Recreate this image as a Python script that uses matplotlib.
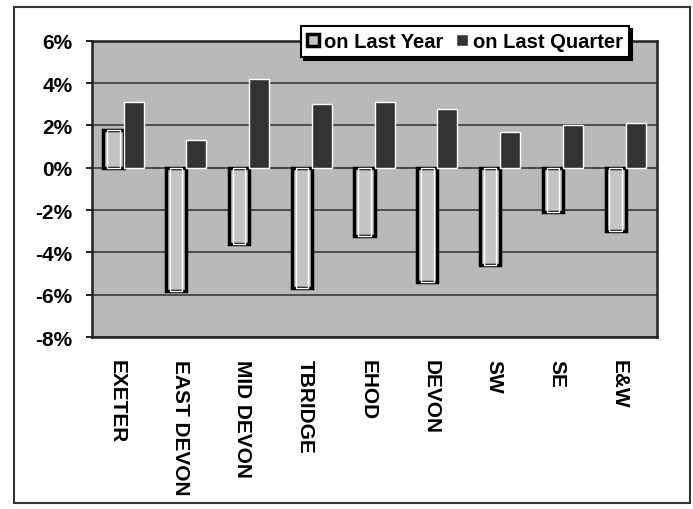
import numpy as np
import matplotlib
matplotlib.use("Agg")
import matplotlib.pyplot as plt
from matplotlib.patches import Rectangle
from matplotlib.ticker import FuncFormatter

plt.rcParams['font.family'] = ['Liberation Sans', 'DejaVu Sans']
plt.rcParams['font.weight'] = 'bold'

areas = ["EXETER", "EAST DEVON", "MID DEVON", "TBRIDGE", "EHOD",
         "DEVON", "SW", "SE", "E&W"]
on_last_year = [1.8, -5.8, -3.6, -5.7, -3.2, -5.4, -4.6, -2.1, -3.0]
on_last_quarter = [3.1, 1.3, 4.2, 3.0, 3.1, 2.8, 1.7, 2.0, 2.1]

fig = plt.figure(figsize=(6.93, 5.1), dpi=100)
ax = fig.add_axes([0.133, 0.337, 0.815, 0.581])
ax.set_facecolor('#b9b9b9')

x = np.arange(len(areas))
w = 0.32

# year-on-year bars: grey fill, heavy black frame, thin white inner line
b1 = ax.bar(x - w / 2, on_last_year, w, color='#c4c4c4',
            edgecolor='black', linewidth=2.5, zorder=3, label='on Last Year')
ax.bar(x - w / 2, on_last_year, w * 0.62, color='none',
       edgecolor='white', linewidth=1, zorder=4)
b2 = ax.bar(x + w / 2, on_last_quarter, w, color='#333333',
            edgecolor='white', linewidth=1, zorder=3, label='on Last Quarter')

ax.set_ylim(-8, 6)
ax.set_xlim(-0.5, len(areas) - 0.5)
ax.set_yticks(np.arange(-8, 7, 2))
ax.yaxis.set_major_formatter(FuncFormatter(lambda v, p: f"{v:.0f}%"))
ax.yaxis.grid(True, color='#3a3a3a', linewidth=1.2, zorder=0)
ax.set_axisbelow(True)

ax.set_xticks(x - 0.1)
ax.set_xticklabels(areas, rotation=-90, va='top', ha='center')
ax.tick_params(axis='x', length=0, pad=16, labelsize=15)
ax.tick_params(axis='y', length=4, width=1.2, labelsize=15, pad=10)
for s in ax.spines.values():
    s.set_linewidth(1.8)
    s.set_color('#222222')

leg = ax.legend(handles=[b1, b2], loc='upper right',
                bbox_to_anchor=(0.95, 1.05), ncol=2, frameon=True,
                fancybox=False, shadow={'color': 'black', 'alpha': 1},
                fontsize=14.5, handlelength=0.6, handleheight=0.6,
                handletextpad=0.25, columnspacing=0.6, borderpad=0.3,
                borderaxespad=0)
leg.get_frame().set_edgecolor('black')
leg.get_frame().set_linewidth(1.5)
leg.set_zorder(10)

# outer chart border
fig.patches.append(Rectangle((0.02, 0.012), 0.975, 0.972,
                             transform=fig.transFigure, fill=False,
                             edgecolor='#333333', linewidth=1.5))

fig.savefig("out.png", dpi=100, facecolor='white')
